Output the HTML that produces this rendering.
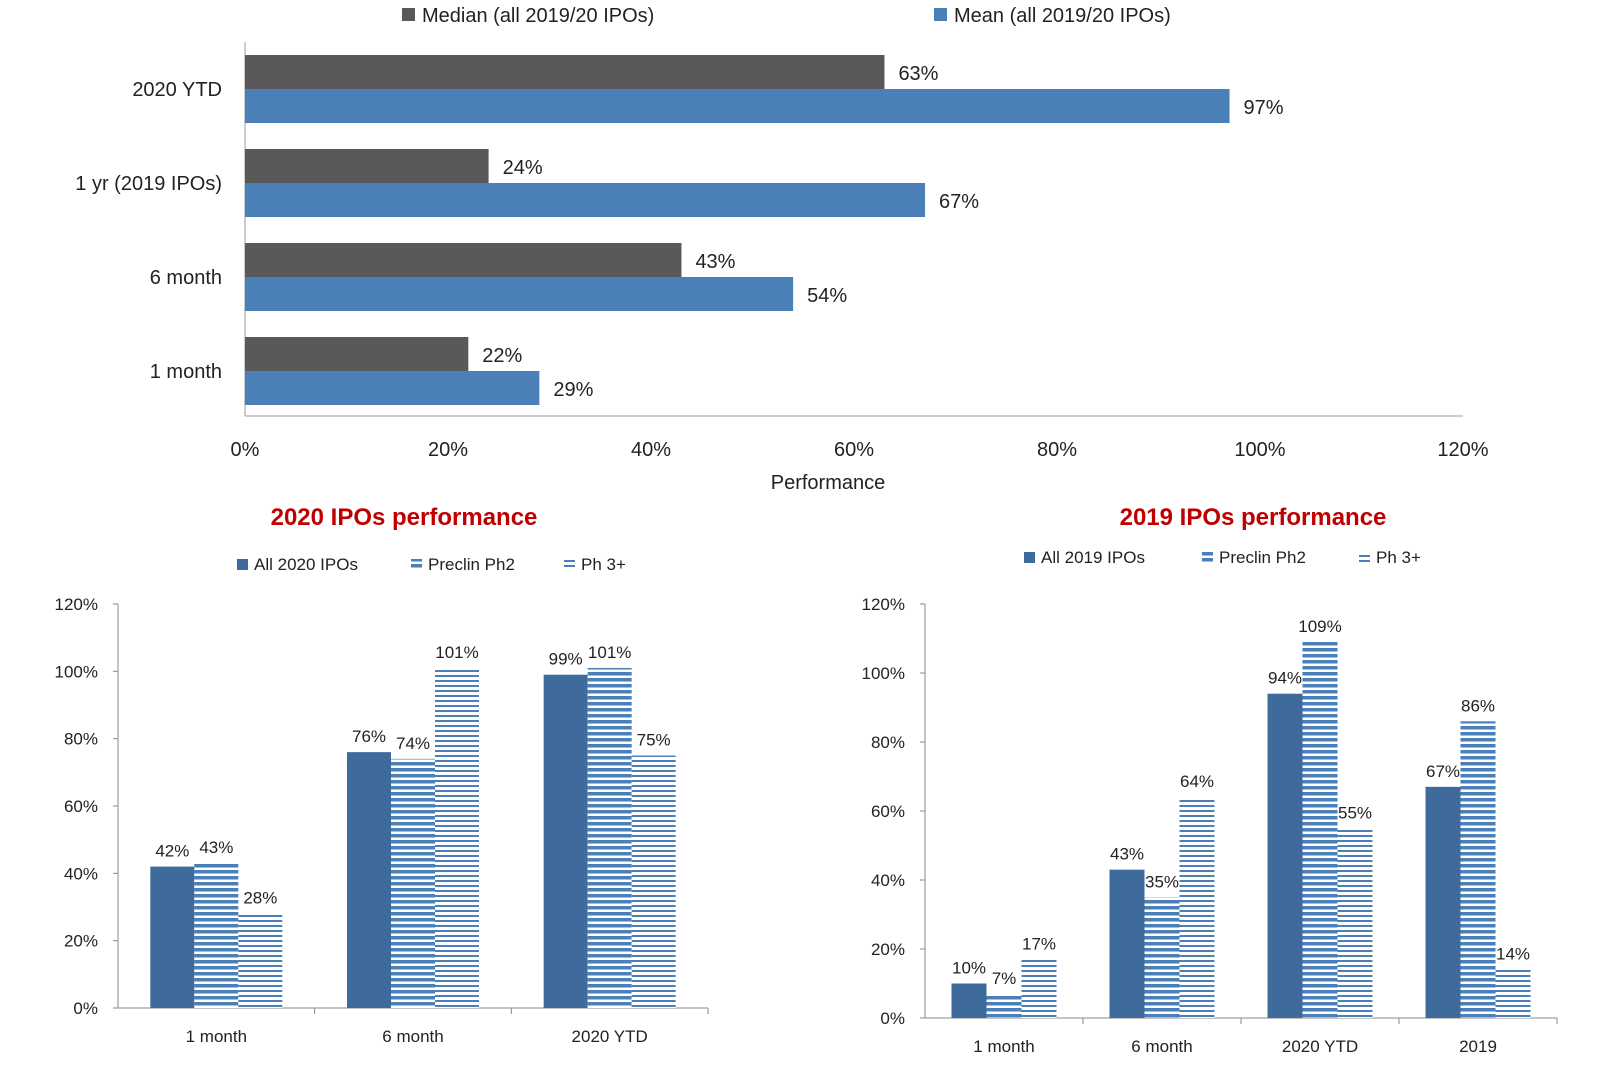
<!DOCTYPE html>
<html><head><meta charset="utf-8">
<style>
body{margin:0;background:#fff;font-family:"Liberation Sans",sans-serif;}
svg text{font-family:"Liberation Sans",sans-serif;fill:#222;}
</style></head>
<body>
<svg id="s" width="1610" height="1085" xmlns="http://www.w3.org/2000/svg">
<defs>
<pattern id="pPre" width="8" height="6" patternUnits="userSpaceOnUse"><rect width="8" height="6" fill="#fff"/><rect y="0" width="8" height="3.5" fill="#4a7fb8"/></pattern>
<pattern id="pPh3" width="8" height="5" patternUnits="userSpaceOnUse"><rect width="8" height="5" fill="#fff"/><rect y="0" width="8" height="2" fill="#4a7fb8"/></pattern>
</defs>
</svg>
<script>
const topCats=["2020 YTD","1 yr (2019 IPOs)","6 month","1 month"];
const topMedian=[63,24,43,22];
const topMean=[97,67,54,29];
const topTicks=[0,20,40,60,80,100,120];
const leftCats=["1 month","6 month","2020 YTD"];
const leftAll=[42,76,99];
const leftPre=[43,74,101];
const leftPh3=[28,101,75];
const rightCats=["1 month","6 month","2020 YTD","2019"];
const rightAll=[10,43,94,67];
const rightPre=[7,35,109,86];
const rightPh3=[17,64,55,14];
const yTicks=[0,20,40,60,80,100,120];

const S=document.getElementById('s');const NS='http://www.w3.org/2000/svg';
function mk(t,a,txt){const e=document.createElementNS(NS,t);for(const k in a)e.setAttribute(k,a[k]);if(txt!==undefined)e.textContent=txt;S.appendChild(e);return e;}

// top chart
const tx=v=>245+v*(1463-245)/120;
const tyc=i=>89+i*94;
let e;
e=mk('line',{x1:245,y1:42,x2:245,y2:416,stroke:'#999'});

e=mk('line',{x1:245,y1:416,x2:1463,y2:416,stroke:'#999'});

topTicks.forEach(t=>{e=mk('text',{x:tx(t),y:456,'text-anchor':'middle','font-size':20},t+'%');
});
e=mk('text',{x:828,y:489,'text-anchor':'middle','font-size':20},'Performance');

topCats.forEach((c,i)=>{const yc=tyc(i);
e=mk('text',{x:222,y:yc+7,'text-anchor':'end','font-size':20},c);

e=mk('rect',{x:245,y:yc-34,width:tx(topMedian[i])-245,height:34,fill:'#595959'});

e=mk('rect',{x:245,y:yc,width:tx(topMean[i])-245,height:34,fill:'#4a7fb8'});

e=mk('text',{x:tx(topMedian[i])+14,y:yc-9,'font-size':20},topMedian[i]+'%');

e=mk('text',{x:tx(topMean[i])+14,y:yc+25,'font-size':20},topMean[i]+'%');

});
e=mk('rect',{x:402,y:8,width:13,height:13,fill:'#595959'});

e=mk('text',{x:422,y:22,'font-size':20},'Median (all 2019/20 IPOs)');

e=mk('rect',{x:934,y:8,width:13,height:13,fill:'#4a7fb8'});

e=mk('text',{x:954,y:22,'font-size':20},'Mean (all 2019/20 IPOs)');


function colChart(o){
 const yv=v=>o.y0-v*(o.y0-o.y120)/120;
 const cw=(o.x1-o.x0)/o.cats.length;
 e=mk('text',{x:o.tx,y:o.ty,'text-anchor':'middle','font-size':24,'font-weight':'bold',style:'fill:#c00000'},o.title);
 
 const lg=[['All '+o.yr+' IPOs','#3f6a9c'],['Preclin Ph2','url(#pPre)'],['Ph 3+','url(#pPh3)']];
 lg.forEach((l,i)=>{e=mk('rect',{x:o.lx[i],y:o.ly-11,width:11,height:11,fill:l[1]});
 
 e=mk('text',{x:o.lx[i]+17,y:o.ly,'font-size':17},l[0]);
 });
 e=mk('line',{x1:o.x0,y1:o.y120,x2:o.x0,y2:o.y0,stroke:'#888'});
 
 e=mk('line',{x1:o.x0,y1:o.y0,x2:o.x1,y2:o.y0,stroke:'#888'});
 
 yTicks.forEach(t=>{mk('line',{x1:o.x0-5,y1:yv(t),x2:o.x0,y2:yv(t),stroke:'#888'});
 e=mk('text',{x:o.x0-20,y:yv(t)+6,'text-anchor':'end','font-size':17},t+'%');
 });
 o.cats.forEach((c,i)=>{const cx=o.x0+cw*i;
 mk('line',{x1:cx+cw,y1:o.y0,x2:cx+cw,y2:o.y0+6,stroke:'#888'});
 e=mk('text',{x:cx+cw/2,y:o.y0+34,'text-anchor':'middle','font-size':17},c);
 
 const bw=o.bw,bs=cx+(cw-3*bw)/2;
 [[o.all,'#3f6a9c'],[o.pre,'url(#pPre)'],[o.ph3,'url(#pPh3)']].forEach((s,k)=>{
  const v=s[0][i];const bx=bs+k*bw;
  e=mk('rect',{x:bx,y:yv(v),width:bw,height:o.y0-yv(v),fill:s[1]});
  
  e=mk('text',{x:bx+bw/2,y:yv(v)-10,'text-anchor':'middle','font-size':17},v+'%');
  
 });});
}
colChart({id:'ipo2020',title:'2020 IPOs performance',yr:'2020',tx:404,ty:525,lx:[237,411,564],ly:570,
 x0:118,x1:708,y0:1008,y120:604,bw:44,cats:leftCats,all:leftAll,pre:leftPre,ph3:leftPh3});
colChart({id:'ipo2019',title:'2019 IPOs performance',yr:'2019',tx:1253,ty:525,lx:[1024,1202,1359],ly:563,
 x0:925,x1:1557,y0:1018,y120:604,bw:35,cats:rightCats,all:rightAll,pre:rightPre,ph3:rightPh3});
</script>
</body></html>
